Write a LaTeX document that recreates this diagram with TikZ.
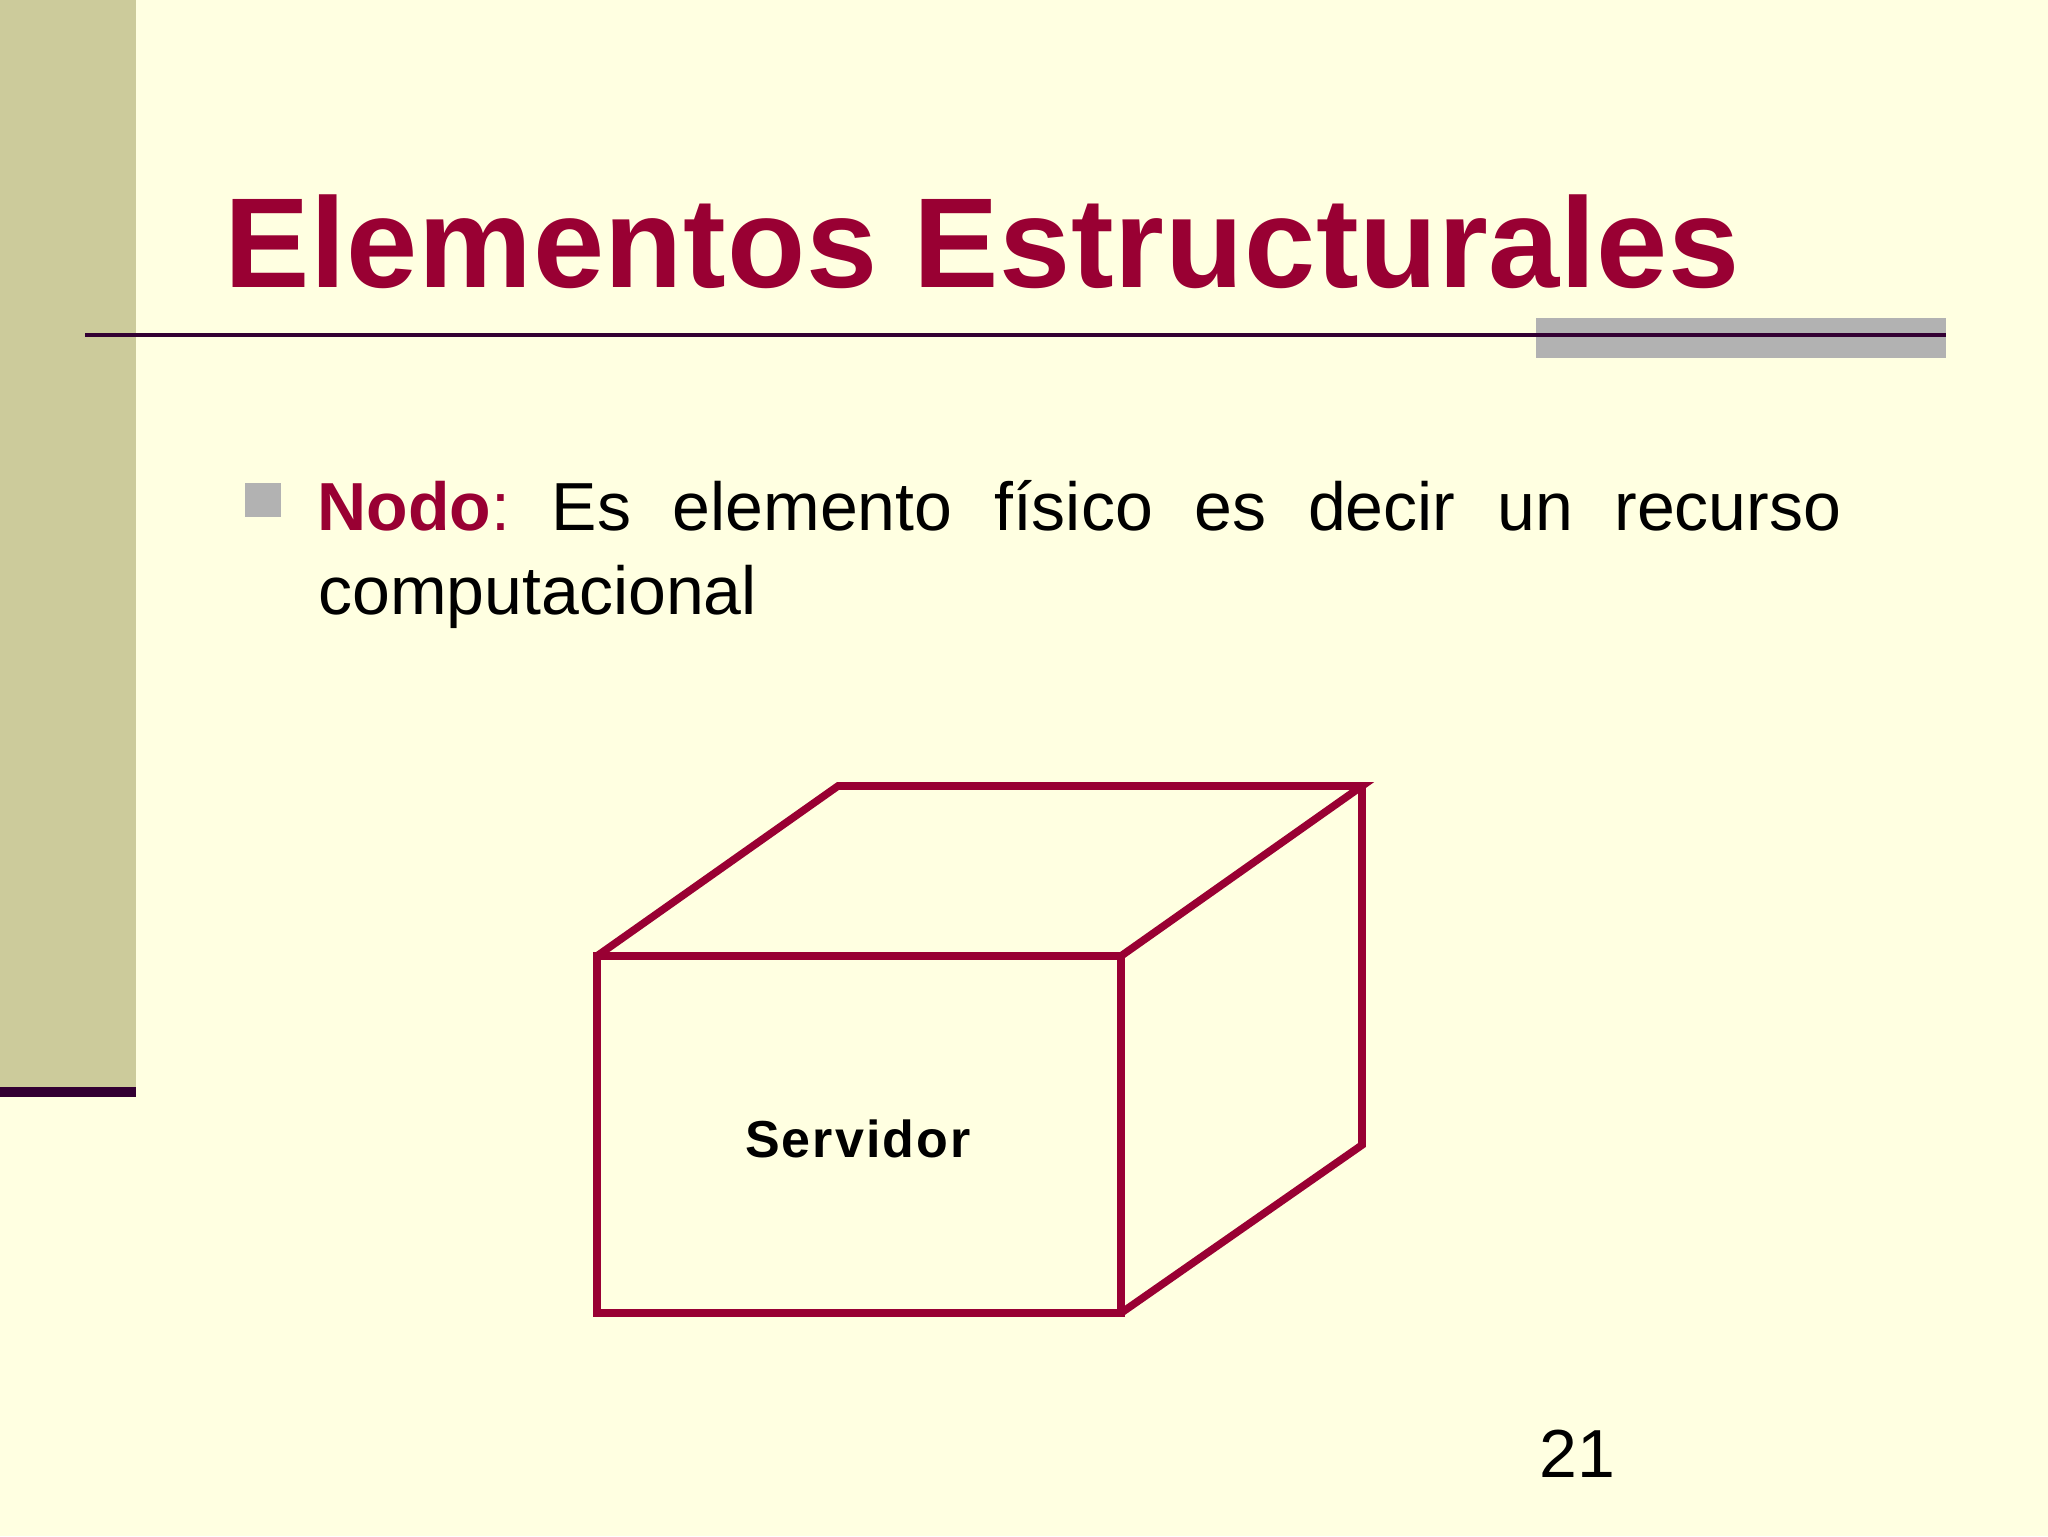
\documentclass[tikz,border=0pt]{standalone}
\usepackage{fontspec}
\setmainfont{Liberation Sans}
\definecolor{bgyellow}{HTML}{FFFFE1}
\definecolor{sidebar}{HTML}{CCCB9B}
\definecolor{darkplum}{HTML}{330033}
\definecolor{crimson}{HTML}{990033}
\definecolor{bulletgray}{HTML}{B2B2B2}
\begin{document}
\begin{tikzpicture}[x=0.5pt,y=-0.5pt,
  edge/.style={draw=crimson,line width=3.8pt,line cap=round,line join=miter},
  bodytext/.style={inner sep=0pt,anchor=base west,font=\fontsize{34}{40}\selectfont}]
\useasboundingbox (0,0) rectangle (2048,1536);
\fill[bgyellow] (0,0) rectangle (2048,1536);
% side bar
\fill[sidebar] (0,0) rectangle (136,1087);
\fill[darkplum] (0,1087) rectangle (136,1097);
% title
\node[inner sep=0pt,anchor=base west,text=crimson,font=\fontsize{64}{70}\selectfont\bfseries\addfontfeature{LetterSpace=0.55}] (title) at (224,287) {Elementos Estructurales};
\fill[bulletgray] (1536,318) rectangle (1946,358);
\draw[darkplum,line width=1.6pt] (85,335) -- (1946,335);
% bullet
\fill[bulletgray] (245,483) rectangle (281,517);
\node[bodytext] (line1) at (317,530) {\frenchspacing\makebox[762pt][s]{\textcolor{crimson}{\textbf{Nodo}:} Es elemento físico es decir un recurso}};
\node[bodytext] (line2) at (318,614) {computacional};
% box
\coordinate (ftl) at (597,956);
\coordinate (ftr) at (1121,956);
\coordinate (fbr) at (1121,1313);
\coordinate (fbl) at (597,1313);
\coordinate (btl) at (838,786);
\coordinate (btr) at (1362,786);
\coordinate (bbr) at (1362,1145);
\draw[edge] (ftl) -- (ftr) -- (fbr) -- (fbl) -- cycle;
\draw[edge] (ftl) -- (btl) -- (btr) -- (ftr);
\draw[edge] (btr) -- (bbr) -- (fbr);
\node[inner sep=0pt,font=\fontsize{26}{30}\selectfont\bfseries\addfontfeature{LetterSpace=4}] (servidor) at (858,1139) {Servidor};
% page number
\node[bodytext] (pagenum) at (1539,1477) {21};
\end{tikzpicture}
\end{document}
